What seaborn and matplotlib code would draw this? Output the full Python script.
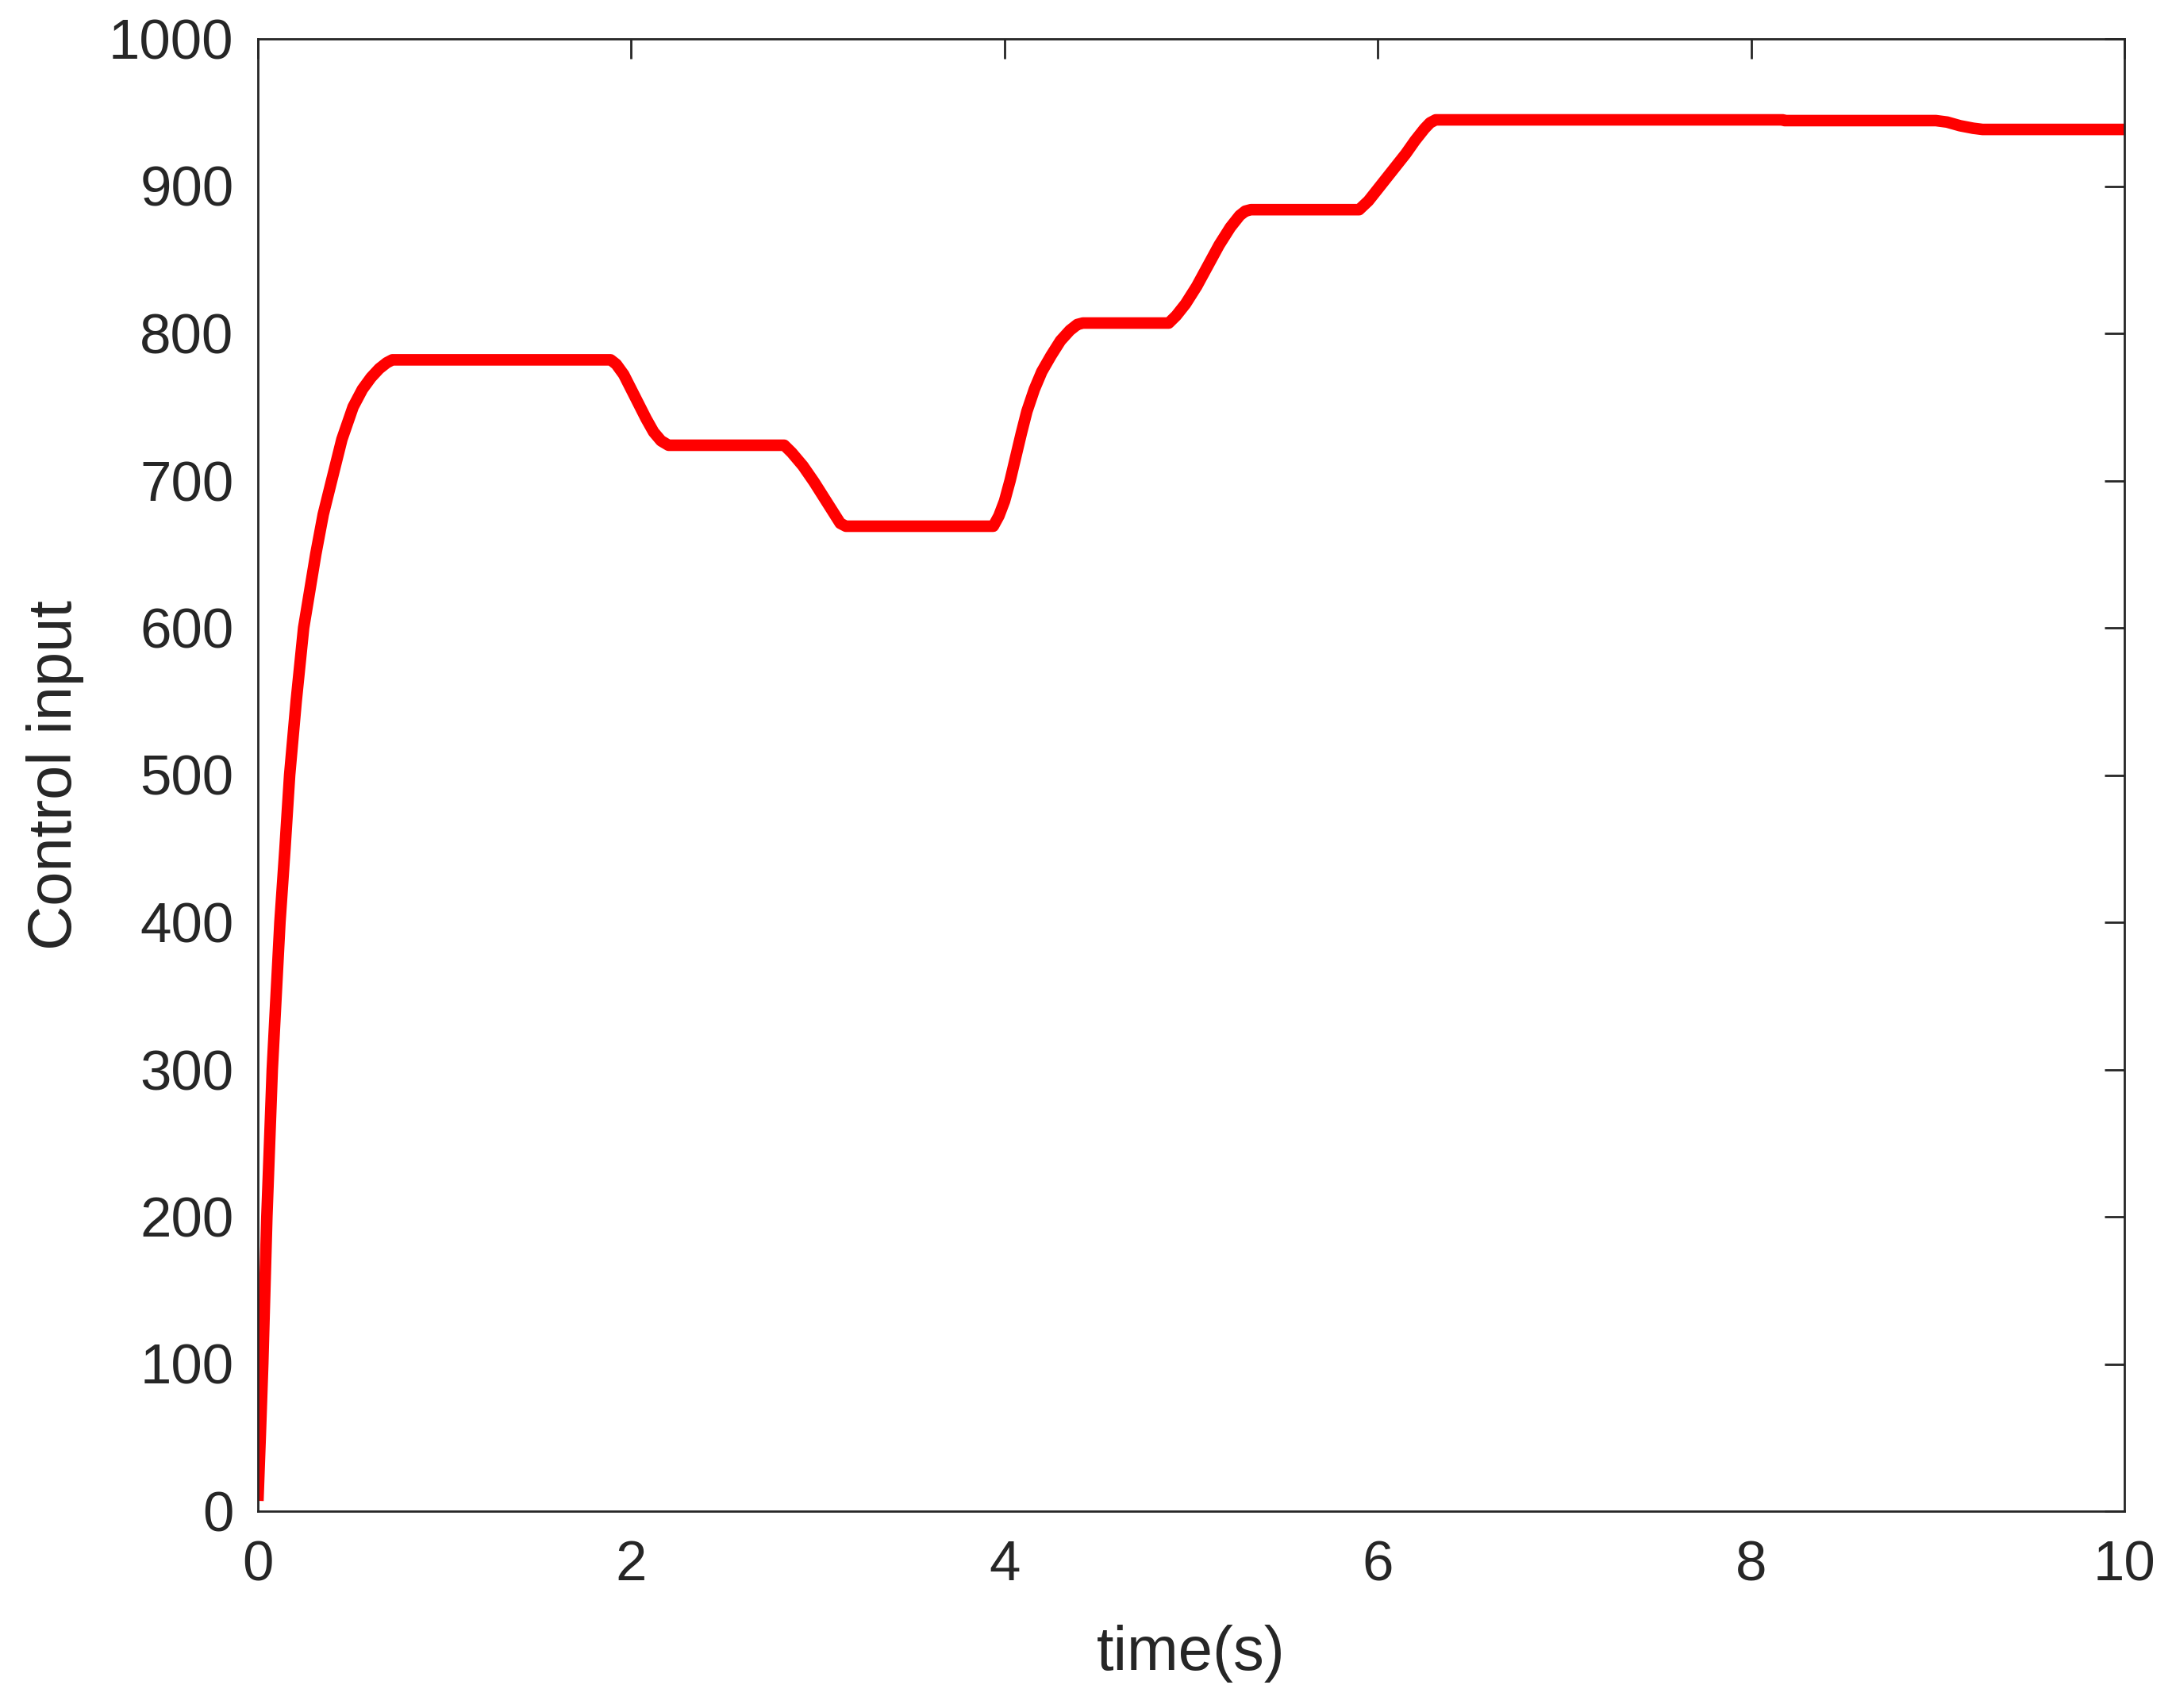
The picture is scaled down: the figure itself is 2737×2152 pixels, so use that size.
import numpy as np
import pandas as pd
import matplotlib
matplotlib.use("Agg")
import matplotlib.pyplot as plt
import seaborn as sns

# ---- data ----
time_s = [0.000, 0.013, 0.026, 0.048, 0.077, 0.118, 0.145, 0.170, 0.205, 0.245,
          0.310, 0.350, 0.395, 0.450, 0.510, 0.560, 0.606, 0.650, 0.690, 0.720,
          1.890, 1.920, 1.960, 2.000, 2.040, 2.080, 2.120, 2.160, 2.200,
          2.820, 2.860, 2.920, 2.980, 3.040, 3.090, 3.120, 3.150,
          3.940, 3.970, 4.000, 4.030, 4.060, 4.090, 4.120, 4.160, 4.200, 4.250,
          4.300, 4.350, 4.390, 4.420,
          4.880, 4.920, 4.970, 5.030, 5.090, 5.150, 5.210, 5.260, 5.290, 5.320,
          5.900, 5.950, 6.000, 6.050, 6.100, 6.150, 6.200, 6.250, 6.280, 6.310,
          8.170, 8.180, 8.990, 9.050, 9.120, 9.190, 9.240, 10.000]
control_input = [7, 52, 100, 200, 300, 400, 450, 500, 550, 600,
                 650, 677, 700, 728, 750, 762, 770, 776, 780, 782,
                 782, 779, 772, 762, 752, 742, 733, 727, 724,
                 724, 719, 710, 699, 687, 677, 671, 669,
                 669, 676, 686, 700, 716, 732, 747, 762, 774, 785,
                 795, 802, 806, 807,
                 807, 812, 820, 832, 846, 860, 872, 880, 883, 884,
                 884, 890, 898, 906, 914, 922, 931, 939, 943, 945,
                 945, 944.5, 944.5, 943.5, 941, 939.3, 938.5, 938.5]

x_ticks = [0, 2, 4, 6, 8, 10]
y_ticks = [0, 100, 200, 300, 400, 500, 600, 700, 800, 900, 1000]
x_label = "time(s)"
y_label = "Control input"

df = pd.DataFrame({"t": time_s, "u": control_input})

sns.set_theme(style="white")
plt.rcParams["font.family"] = ["Liberation Sans", "DejaVu Sans"]

W, H, DPI = 2737, 2152, 100
fig = plt.figure(figsize=(W / DPI, H / DPI), dpi=DPI)
ax = fig.add_axes([325 / W, 1 - 1904 / H, (2677 - 325) / W, (1904 - 49) / H])

sns.lineplot(data=df, x="t", y="u", ax=ax, color="#ff0000", linewidth=10.5,
             estimator=None, sort=False)
for ln in ax.lines:
    ln.set_solid_capstyle("butt")
    ln.set_solid_joinstyle("round")

axis_col = "#262626"
ax.set_xlim(0, 10)
ax.set_ylim(0, 1000)
ax.set_xticks(x_ticks)
ax.set_yticks(y_ticks)
ax.set_xticklabels([str(v) for v in x_ticks])
ax.set_yticklabels([str(v) for v in y_ticks])

for sp in ax.spines.values():
    sp.set_visible(True)
    sp.set_color(axis_col)
    sp.set_linewidth(2.0)

ax.tick_params(axis="both", which="major", direction="in", length=18, width=2.0,
               color=axis_col, labelcolor=axis_col, labelsize=51,
               top=True, right=True)
ax.tick_params(axis="x", pad=26)
ax.tick_params(axis="y", pad=22)
ax.grid(False)

ax.set_xlabel(x_label, fontsize=56, color=axis_col)
ax.set_ylabel(y_label, fontsize=56, color=axis_col)
ax.xaxis.set_label_coords(0.5, (1904 - 2084) / 1855)
ax.xaxis.label.set_va("center")
ax.yaxis.set_label_coords((70 - 325) / 2352, 0.5)
ax.yaxis.label.set_va("center")

fig.savefig("out.png", dpi=DPI, facecolor="white")
